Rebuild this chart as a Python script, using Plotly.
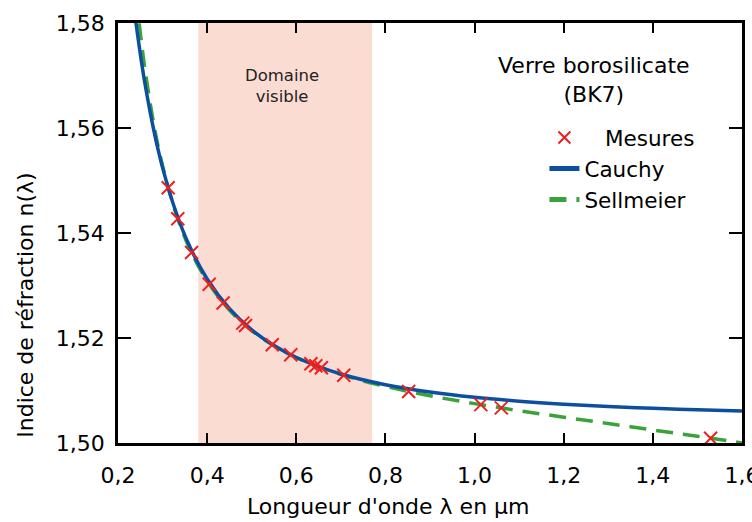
import plotly.graph_objects as go

# ---- data ----
lam_meas = [0.3126, 0.3341, 0.3650, 0.4047, 0.4358, 0.4800, 0.4861, 0.5461, 0.5876,
            0.6328, 0.6438, 0.6563, 0.7065, 0.8521, 1.0140, 1.0600, 1.5296]
n_meas = [1.54862, 1.54272, 1.53627, 1.53024, 1.52668, 1.52283, 1.52238, 1.51872, 1.51680,
          1.51509, 1.51472, 1.51432, 1.51289, 1.50980, 1.50731, 1.50669, 1.50091]

lam_curve = [0.23, 0.24, 0.25, 0.26, 0.28, 0.30, 0.33, 0.36, 0.40, 0.45, 0.50, 0.55, 0.60,
             0.70, 0.80, 0.90, 1.0, 1.1, 1.2, 1.3, 1.4, 1.5, 1.6]
n_cauchy = [1.58708, 1.58016, 1.57408, 1.56871, 1.55969, 1.55245, 1.54400, 1.53761, 1.53125,
            1.52558, 1.52154, 1.51856, 1.51629, 1.51314, 1.51110, 1.50970, 1.50870, 1.50796,
            1.50739, 1.50696, 1.50661, 1.50633, 1.50610]
n_sellmeier = [1.59531, 1.58594, 1.57811, 1.57148, 1.56086, 1.55277, 1.54375, 1.53719, 1.53085,
               1.52532, 1.52141, 1.51852, 1.51629, 1.51306, 1.51078, 1.50900, 1.50750, 1.50616,
               1.50492, 1.50370, 1.50249, 1.50127, 1.50002]

visible_range = [0.38, 0.77]
x_ticks = [0.2, 0.4, 0.6, 0.8, 1.0, 1.2, 1.4, 1.6]
y_ticks = [1.50, 1.52, 1.54, 1.56, 1.58]

FONT = "DejaVu Sans"
RED = "#ee1f1f"
BLUE = "#0d4f9f"
GREEN = "#3aa23a"
FS = 22

fig = go.Figure()

fig.add_shape(type="rect", xref="x", yref="paper",
              x0=visible_range[0], x1=visible_range[1], y0=0, y1=1,
              fillcolor="#fbdcd2", line_width=0, layer="below")

fig.add_trace(go.Scatter(x=lam_curve, y=n_sellmeier, mode="lines", name="Sellmeier",
                         line=dict(color=GREEN, width=3.5, dash="17px,10px", shape="spline"),
                         legendrank=3))
fig.add_trace(go.Scatter(x=lam_curve, y=n_cauchy, mode="lines", name="Cauchy",
                         line=dict(color=BLUE, width=3.5, shape="spline"),
                         legendrank=2))
fig.add_trace(go.Scatter(x=lam_meas, y=n_meas, mode="markers",
                         name="\u00a0\u00a0\u00a0Mesures",
                         marker=dict(symbol="x-thin", size=13, color=RED,
                                     line=dict(color=RED, width=2)),
                         legendrank=1))

axis_common = dict(showline=True, linecolor="black", linewidth=2.5, mirror="ticks",
                   ticks="inside", tickwidth=2, tickcolor="black", showgrid=False,
                   zeroline=False, tickfont=dict(family=FONT, size=FS, color="black"),
                   ticklabeloverflow="allow", automargin=False)

fig.update_xaxes(range=[0.2, 1.6], tickvals=x_ticks, tickformat=".1f", ticklen=10,
                 ticklabelstandoff=11, **axis_common)
fig.update_yaxes(range=[1.50, 1.58], tickvals=y_ticks, tickformat=".2f", ticklen=13,
                 ticklabelstandoff=6, **axis_common)

fig.add_annotation(x=0.567, y=1.568, xref="x", yref="y", text="Domaine<br>visible",
                   showarrow=False, font=dict(family=FONT, size=16.5, color="#222222"),
                   xanchor="center", yanchor="middle")

fig.add_annotation(x=(595 - 118.3) / 624.4, y=(443 - 80) / 420, xref="paper", yref="paper",
                   text="Verre borosilicate<br>(BK7)", showarrow=False,
                   font=dict(family=FONT, size=FS, color="black"),
                   xanchor="center", yanchor="middle")

fig.add_annotation(x=(25 - 118.3) / 624.4, y=(443 - 305) / 420, xref="paper", yref="paper",
                   text="Indice de réfraction n(λ)", textangle=-90, showarrow=False,
                   font=dict(family=FONT, size=FS, color="black"),
                   xanchor="center", yanchor="middle")

fig.add_annotation(x=(388.5 - 118.3) / 624.4, y=(443 - 507) / 420, xref="paper", yref="paper",
                   text="Longueur d'onde λ en µm", showarrow=False,
                   font=dict(family=FONT, size=FS, color="black"),
                   xanchor="center", yanchor="middle")

fig.update_layout(
    width=752, height=522,
    margin=dict(l=118, r=10, t=23, b=79, autoexpand=False),
    paper_bgcolor="white", plot_bgcolor="white",
    separators=", ",
    font=dict(family=FONT, size=FS, color="black"),
    showlegend=True,
    legend=dict(x=(545 - 118.3) / 624.4, y=(443 - 117) / 420, xanchor="left", yanchor="top",
                bgcolor="rgba(0,0,0,0)", borderwidth=0,
                font=dict(family=FONT, size=FS - 0.5, color="black"),
                tracegroupgap=0, itemsizing="constant"),
)

fig.write_html("out.html")
